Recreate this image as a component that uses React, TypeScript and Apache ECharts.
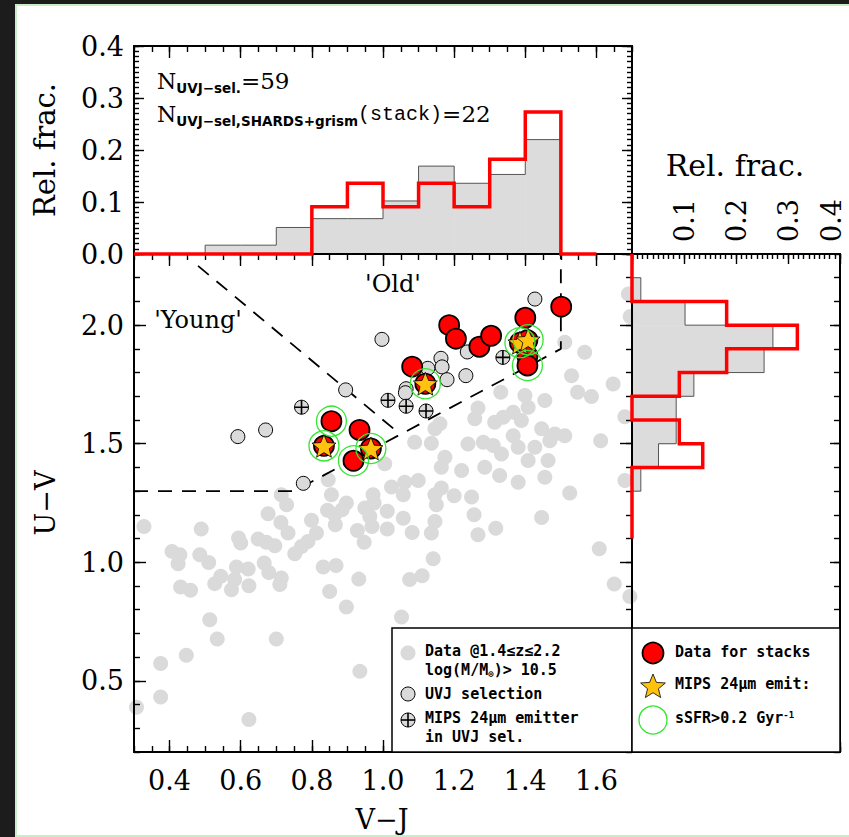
import React, { useEffect, useRef } from "react";
import * as echarts from "echarts";

// ---------------- histogram data (relative fractions) ----------------
const vjBinEdges = [0.3, 0.4, 0.5, 0.6, 0.7, 0.8, 0.9, 1.0, 1.1, 1.2, 1.3, 1.4, 1.5, 1.6];
const vjFracUVJ = [0, 0, 0.017, 0.017, 0.051, 0.068, 0.068, 0.102, 0.169, 0.136, 0.153, 0.22, 0];
const vjFracStack = [0, 0, 0, 0, 0, 0.091, 0.136, 0.091, 0.136, 0.091, 0.182, 0.273, 0];

const uvBinEdges = [2.3, 2.2, 2.1, 2.0, 1.9, 1.8, 1.7, 1.6, 1.5, 1.4, 1.3, 1.2, 1.1];
const uvFracUVJ = [0, 0.017, 0.102, 0.271, 0.254, 0.119, 0.085, 0.085, 0.051, 0.017, 0, 0];
const uvFracStack = [0, 0, 0.182, 0.318, 0.182, 0.091, 0, 0.091, 0.136, 0, 0, 0];

// ---------------- scatter data: [V-J, U-V] ----------------
const allData = [
  [0.328, 1.151], [0.489, 1.14], [0.407, 1.046], [0.429, 1.032], [0.424, 0.994], [0.485, 1.032], [0.51, 0.999],
  [0.594, 1.102], [0.6, 1.081], [0.649, 1.098], [0.672, 1.084], [0.696, 1.07], [0.677, 1.205], [0.713, 1.168],
  [0.733, 1.123], [0.714, 1.285], [0.729, 1.243], [0.799, 1.177], [0.813, 1.123], [0.789, 1.088], [0.771, 1.067],
  [0.752, 1.036], [0.855, 1.285], [0.844, 1.219], [0.864, 1.2], [0.866, 1.158], [0.897, 1.25], [0.885, 1.222],
  [0.846, 1.348], [0.949, 1.229], [0.972, 1.285], [0.975, 1.25], [0.963, 1.193], [0.969, 1.151], [0.928, 1.134],
  [0.947, 1.084], [1.012, 1.14], [0.588, 0.98], [0.621, 0.972], [0.666, 0.997], [0.679, 0.957], [0.544, 0.941],
  [0.527, 0.91], [0.583, 0.927], [0.574, 0.884], [0.623, 0.901], [0.714, 0.934], [0.71, 0.906], [0.431, 0.896],
  [0.459, 0.882], [0.832, 0.98], [0.868, 0.986], [0.85, 0.877], [0.932, 0.929], [0.897, 0.811], [0.513, 0.758],
  [0.534, 0.677], [0.7, 0.677], [0.447, 0.608], [0.375, 0.573], [0.375, 0.432], [0.307, 0.389], [0.623, 0.337],
  [0.935, 0.54], [1.057, 1.285], [1.164, 1.313], [1.15, 1.243], [1.2, 1.281], [1.249, 1.275], [1.146, 1.285],
  [1.525, 1.292], [1.012, 1.215], [1.057, 1.186], [1.082, 1.126], [1.146, 1.172], [1.136, 1.123], [1.256, 1.2],
  [1.267, 1.116], [1.317, 1.144], [1.446, 1.189], [1.141, 1.015], [1.11, 0.943], [1.075, 0.927], [1.052, 0.769],
  [1.608, 1.057], [1.65, 0.908], [1.694, 0.856], [1.511, 1.928], [1.567, 1.886], [1.69, 2.131], [1.695, 2.036],
  [1.53, 1.787], [1.647, 1.752], [1.331, 1.717], [1.399, 1.703], [1.455, 1.682], [1.547, 1.717], [1.586, 1.699],
  [1.267, 1.651], [1.366, 1.633], [1.408, 1.654], [1.389, 1.598], [1.258, 1.605], [1.314, 1.591], [1.338, 1.612],
  [1.446, 1.563], [1.483, 1.541], [1.511, 1.534], [1.612, 1.513], [1.68, 1.614], [1.16, 1.584], [1.146, 1.563],
  [1.089, 1.506], [1.136, 1.502], [1.239, 1.499], [1.282, 1.506], [1.31, 1.492], [1.366, 1.534], [1.38, 1.485],
  [1.427, 1.485], [1.469, 1.513], [1.174, 1.443], [1.221, 1.387], [1.286, 1.401], [1.333, 1.457], [1.408, 1.429],
  [1.464, 1.429], [1.328, 1.366], [1.38, 1.338], [1.455, 1.359], [1.68, 1.345], [1.061, 1.338], [1.024, 1.317],
  [1.099, 1.345], [1.164, 1.401], [1.005, 1.415],
];
const uvjSelection = [
  [0.592, 1.53], [0.67, 1.558], [0.895, 1.727], [0.997, 1.94], [0.776, 1.333], [1.427, 2.11], [1.237, 1.887],
  [1.163, 1.86], [1.166, 1.824], [1.126, 1.818], [1.18, 1.77], [1.233, 1.787], [1.065, 1.732], [1.063, 1.715],
];
const mipsUVJ = [[0.771, 1.654], [1.014, 1.683], [1.065, 1.658], [1.121, 1.638], [1.337, 1.864]];
const stackData = [
  [0.855, 1.595], [0.834, 1.491], [0.934, 1.558], [0.917, 1.428], [0.966, 1.48], [1.082, 1.825], [1.119, 1.753],
  [1.186, 2.0], [1.205, 1.943], [1.271, 1.909], [1.304, 1.955], [1.4, 2.031], [1.385, 1.926], [1.406, 1.937],
  [1.406, 1.87], [1.406, 1.83], [1.501, 2.078],
];
const mipsStack = [[0.834, 1.491], [0.966, 1.48], [1.119, 1.753], [1.385, 1.926], [1.408, 1.938]];
const highSSFR = [[0.855, 1.595], [0.834, 1.491], [0.917, 1.428], [0.966, 1.48], [1.119, 1.753], [1.385, 1.926], [1.408, 1.938], [1.406, 1.83]];

// selection boundaries
const uvjBoxVJ = [0.3, 0.75, 1.5, 1.5];
const uvjBoxUV = [1.3, 1.3, 1.9, 2.3];
const dividerVJ = [0.48, 1.049];
const dividerUV = [2.25, 1.539];

// ticks and tick labels
const vjTicks = [0.4, 0.6, 0.8, 1.0, 1.2, 1.4, 1.6];
const uvTicks = [0.5, 1.0, 1.5, 2.0];
const fracLeftLabels = [0.0, 0.1, 0.2, 0.3, 0.4];
const fracTopLabelPos = [0.1, 0.2, 0.3, 0.383];

const SERIF = "DejaVu Serif";
const MONO = "DejaVu Sans Mono";
const GRAY = "#dadada";
const STAR_PATH =
  "path://M50,0 L62.93,32.2 L97.55,34.55 L70.92,56.8 L79.39,90.45 L50,72 L20.61,90.45 L29.08,56.8 L2.45,34.55 L37.07,32.2 Z";
const PLUS_PATH = "path://M0,10 L20,10 M10,0 L10,20";
const starUnit = [
  [0, -1], [0.2586, -0.356], [0.951, -0.309], [0.4184, 0.136], [0.5878, 0.809],
  [0, 0.44], [-0.5878, 0.809], [-0.4184, 0.136], [-0.951, -0.309], [-0.2586, -0.356],
];

function stepAlongX(edges: number[], vals: number[]) {
  const pts: number[][] = [[edges[0], 0]];
  vals.forEach((v, i) => {
    pts.push([edges[i], v]);
    pts.push([edges[i + 1], v]);
  });
  pts.push([edges[edges.length - 1], 0]);
  return pts;
}
function stepAlongY(edges: number[], vals: number[]) {
  const pts: number[][] = [[0, edges[0]]];
  vals.forEach((v, i) => {
    pts.push([v, edges[i]]);
    pts.push([v, edges[i + 1]]);
  });
  pts.push([0, edges[edges.length - 1]]);
  return pts;
}

function ax(o: any) {
  return {
    type: "value",
    gridIndex: o.grid,
    position: o.pos,
    min: o.min,
    max: o.max,
    interval: o.interval,
    z: 10,
    splitLine: { show: false },
    axisLine: { show: o.line !== false, onZero: false, lineStyle: { color: "#000", width: 2 } },
    axisTick: {
      show: o.tick !== false,
      inside: true,
      length: o.len || 6,
      customValues: o.ticks,
      lineStyle: { color: "#000", width: 1.4 },
    },
    axisLabel: o.labels
      ? {
          show: true,
          customValues: o.labels,
          formatter: (v: number) => (Math.round(Number(v) * 10) / 10).toFixed(1),
          fontFamily: SERIF,
          fontSize: 27,
          color: "#000",
          margin: o.margin,
          rotate: o.rotate || 0,
        }
      : { show: false },
  };
}

function buildOption() {
  const xAxis = [
    ax({ grid: 0, pos: "bottom", min: 0.3, max: 1.7, ticks: vjTicks, len: 12, labels: vjTicks, margin: 15 }),
    ax({ grid: 0, pos: "bottom", min: 0.3, max: 1.7, interval: 0.05, len: 6, line: false }),
    ax({ grid: 0, pos: "top", min: 0.3, max: 1.7, ticks: vjTicks, len: 12 }),
    ax({ grid: 0, pos: "top", min: 0.3, max: 1.7, interval: 0.05, len: 6, line: false }),
    ax({ grid: 1, pos: "top", min: 0.3, max: 1.7, ticks: vjTicks, len: 12 }),
    ax({ grid: 1, pos: "top", min: 0.3, max: 1.7, interval: 0.05, len: 6, line: false }),
    ax({ grid: 2, pos: "top", min: 0, max: 0.4, interval: 0.1, len: 10, labels: fracTopLabelPos, margin: 12, rotate: -90 }),
    ax({ grid: 2, pos: "top", min: 0, max: 0.4, interval: 0.01, len: 5, line: false }),
    ax({ grid: 2, pos: "bottom", min: 0, max: 0.4, interval: 0.1, len: 10 }),
    ax({ grid: 2, pos: "bottom", min: 0, max: 0.4, interval: 0.01, len: 5, line: false }),
  ];
  const yAxis = [
    ax({ grid: 0, pos: "left", min: 0.2, max: 2.3, ticks: uvTicks, len: 12, labels: uvTicks, margin: 10 }),
    ax({ grid: 0, pos: "left", min: 0.2, max: 2.3, interval: 0.1, len: 6, line: false }),
    ax({ grid: 0, pos: "right", min: 0.2, max: 2.3, ticks: uvTicks, len: 12 }),
    ax({ grid: 0, pos: "right", min: 0.2, max: 2.3, interval: 0.1, len: 6, line: false }),
    ax({ grid: 1, pos: "left", min: 0, max: 0.4, interval: 0.1, len: 10, labels: fracLeftLabels, margin: 10 }),
    ax({ grid: 1, pos: "left", min: 0, max: 0.4, interval: 0.01, len: 5, line: false }),
    ax({ grid: 1, pos: "right", min: 0, max: 0.4, interval: 0.1, len: 10 }),
    ax({ grid: 1, pos: "right", min: 0, max: 0.4, interval: 0.01, len: 5, line: false }),
    ax({ grid: 2, pos: "left", min: 0.2, max: 2.3, interval: 0.1, tick: false, line: false }),
    ax({ grid: 2, pos: "right", min: 0.2, max: 2.3, ticks: uvTicks, len: 10 }),
    ax({ grid: 2, pos: "right", min: 0.2, max: 2.3, interval: 0.1, len: 6, line: false }),
  ];

  const topFill = (fracs: number[]) => ({
    type: "custom",
    xAxisIndex: 4,
    yAxisIndex: 4,
    z: 2,
    renderItem: (_p: any, api: any) => {
      const a = api.coord([api.value(0), api.value(2)]);
      const b = api.coord([api.value(1), 0]);
      return { type: "rect", shape: { x: a[0], y: a[1], width: b[0] - a[0] + 0.5, height: b[1] - a[1] }, style: { fill: "#dcdcdc" } };
    },
    data: fracs.map((v, i) => [vjBinEdges[i], vjBinEdges[i + 1], v]),
  });
  const rightFill = (fracs: number[]) => ({
    type: "custom",
    xAxisIndex: 6,
    yAxisIndex: 8,
    z: 2,
    renderItem: (_p: any, api: any) => {
      const a = api.coord([0, api.value(0)]);
      const b = api.coord([api.value(2), api.value(1)]);
      return { type: "rect", shape: { x: a[0], y: a[1], width: b[0] - a[0], height: b[1] - a[1] + 0.5 }, style: { fill: "#dcdcdc" } };
    },
    data: fracs.map((v, i) => [uvBinEdges[i], uvBinEdges[i + 1], v]),
  });
  const stepLine = (data: number[][], xi: number, yi: number, color: string, width: number, z: number) => ({
    type: "line",
    xAxisIndex: xi,
    yAxisIndex: yi,
    data,
    symbol: "none",
    showSymbol: false,
    clip: false,
    z,
    lineStyle: { color, width, join: "miter", cap: "butt" },
  });

  const series: any[] = [
    topFill(vjFracUVJ),
    stepLine(stepAlongX(vjBinEdges, vjFracUVJ), 4, 4, "#555", 1, 3),
    stepLine(stepAlongX(vjBinEdges, vjFracStack), 4, 4, "#ff0000", 3.5, 20),
    rightFill(uvFracUVJ),
    stepLine(stepAlongY(uvBinEdges, uvFracUVJ), 6, 8, "#555", 1, 3),
    stepLine(stepAlongY(uvBinEdges, uvFracStack), 6, 8, "#ff0000", 3.5, 20),
    {
      type: "scatter", xAxisIndex: 0, yAxisIndex: 0, data: allData, symbol: "circle", symbolSize: 15, z: 2,
      itemStyle: { color: GRAY, borderWidth: 0, opacity: 1 },
    },
    {
      type: "line", xAxisIndex: 0, yAxisIndex: 0, data: uvjBoxVJ.map((v, i) => [v, uvjBoxUV[i]]), symbol: "none", z: 3,
      lineStyle: { color: "#000", width: 1.8, type: [14, 10] },
    },
    {
      type: "line", xAxisIndex: 0, yAxisIndex: 0, data: dividerVJ.map((v, i) => [v, dividerUV[i]]), symbol: "none", z: 3,
      lineStyle: { color: "#000", width: 1.8, type: [14, 10] },
    },
    {
      type: "scatter", xAxisIndex: 0, yAxisIndex: 0, data: uvjSelection, symbol: "circle", symbolSize: 14, z: 4,
      itemStyle: { color: GRAY, borderColor: "#000", borderWidth: 1, opacity: 1 },
    },
    {
      type: "scatter", xAxisIndex: 0, yAxisIndex: 0, data: mipsUVJ, symbol: "circle", symbolSize: 14, z: 5,
      itemStyle: { color: GRAY, borderColor: "#000", borderWidth: 1, opacity: 1 },
    },
    {
      type: "scatter", xAxisIndex: 0, yAxisIndex: 0, data: mipsUVJ, symbol: PLUS_PATH, symbolSize: 14, z: 5,
      itemStyle: { color: "none", borderColor: "#000", borderWidth: 1.6, opacity: 1 },
    },
    {
      type: "scatter", xAxisIndex: 0, yAxisIndex: 0, data: stackData, symbol: "circle", symbolSize: 20, z: 6,
      itemStyle: { color: "#ff0000", borderColor: "#000", borderWidth: 1.8, opacity: 1 },
    },
    {
      type: "scatter", xAxisIndex: 0, yAxisIndex: 0, data: mipsStack, symbol: STAR_PATH, symbolKeepAspect: true, symbolSize: 24, z: 7,
      itemStyle: { color: "#ffc20e", borderColor: "#000", borderWidth: 0.8, opacity: 1 },
    },
    {
      type: "scatter", xAxisIndex: 0, yAxisIndex: 0, data: highSSFR, symbol: "circle", symbolSize: 30, z: 8,
      itemStyle: { color: "rgba(0,0,0,0)", borderColor: "#33e633", borderWidth: 1.3, opacity: 1 },
    },
  ];

  const LFS = 15;
  const richBase = { fontFamily: MONO, fontWeight: "bold", fontSize: LFS, lineHeight: 16, fill: "#000" };
  const legendText = (x: number, y: number, text: string, rich?: any) => ({
    type: "text",
    x,
    y,
    z: 30,
    style: {
      text,
      fill: "#000",
      fontFamily: MONO,
      fontWeight: "bold",
      fontSize: LFS,
      align: "left",
      verticalAlign: "middle",
      rich,
    },
  });
  const starPts = (cx: number, cy: number, r: number) => starUnit.map((p) => [cx + p[0] * r, cy + p[1] * r]);

  const annRich = {
    n: { fontFamily: SERIF, fontSize: 22, lineHeight: 28, verticalAlign: "middle", fill: "#000" },
    s: { fontFamily: "DejaVu Sans", fontWeight: "bold", fontSize: 13.5, lineHeight: 13, verticalAlign: "bottom", fill: "#000" },
    t: { fontFamily: SERIF, fontSize: 23, lineHeight: 28, verticalAlign: "middle", fill: "#000" },
    m: { fontFamily: "Liberation Mono", fontSize: 20, lineHeight: 28, verticalAlign: "middle", fill: "#000" },
  };

  const graphic: any[] = [
    { type: "rect", shape: { x: 0, y: 0, width: 15, height: 837 }, style: { fill: "#1c1c1c" }, z: 50 },
    { type: "rect", shape: { x: 0, y: 0, width: 849, height: 4 }, style: { fill: "#1c1c1c" }, z: 50 },
    { type: "rect", shape: { x: 15, y: 4, width: 2, height: 833 }, style: { fill: "#c8eec8" }, z: 50 },
    { type: "rect", shape: { x: 15, y: 4, width: 834, height: 2 }, style: { fill: "#c8eec8" }, z: 50 },
    { type: "rect", shape: { x: 15, y: 835, width: 834, height: 2 }, style: { fill: "#c8eec8" }, z: 50 },
    // axis titles
    { type: "text", x: 45, y: 150, rotation: Math.PI / 2, style: { text: "Rel. frac.", fontFamily: SERIF, fontSize: 29, fill: "#000", align: "center", verticalAlign: "middle" } },
    { type: "text", x: 735, y: 165, style: { text: "Rel. frac.", fontFamily: SERIF, fontSize: 30, fill: "#000", align: "center", verticalAlign: "middle" } },
    { type: "text", x: 45, y: 503, rotation: Math.PI / 2, style: { text: "U−V", fontFamily: SERIF, fontSize: 27, fill: "#000", align: "center", verticalAlign: "middle" } },
    { type: "text", x: 382, y: 819, style: { text: "V−J", fontFamily: SERIF, fontSize: 27, fill: "#000", align: "center", verticalAlign: "middle" } },
    { type: "text", x: 198, y: 320, z: 30, style: { text: "'Young'", fontFamily: SERIF, fontSize: 24, fill: "#000", align: "center", verticalAlign: "middle" } },
    { type: "text", x: 393, y: 284, z: 30, style: { text: "'Old'", fontFamily: SERIF, fontSize: 24, fill: "#000", align: "center", verticalAlign: "middle" } },
    // annotations in top histogram
    { type: "text", x: 157, y: 81, z: 30, style: { text: "{n|N}{s|UVJ−sel.}{t|=59}", rich: annRich, align: "left", verticalAlign: "middle" } },
    { type: "text", x: 157, y: 114, z: 30, style: { text: "{n|N}{s|UVJ−sel,SHARDS+grism}{m|(stack)}{t|=22}", rich: annRich, align: "left", verticalAlign: "middle" } },
    // legend boxes
    { type: "rect", z: 25, shape: { x: 392, y: 628, width: 240, height: 124 }, style: { fill: "#fff", stroke: "#000", lineWidth: 1.5 } },
    { type: "rect", z: 25, shape: { x: 632, y: 628, width: 208, height: 124 }, style: { fill: "#fff", stroke: "#000", lineWidth: 1.5 } },
    { type: "circle", z: 30, shape: { cx: 408, cy: 653, r: 7.5 }, style: { fill: GRAY } },
    { type: "circle", z: 30, shape: { cx: 408, cy: 694, r: 7 }, style: { fill: GRAY, stroke: "#000", lineWidth: 1 } },
    { type: "circle", z: 30, shape: { cx: 408, cy: 720, r: 7 }, style: { fill: GRAY, stroke: "#000", lineWidth: 1 } },
    { type: "line", z: 31, shape: { x1: 401, y1: 720, x2: 415, y2: 720 }, style: { stroke: "#000", lineWidth: 1.6 } },
    { type: "line", z: 31, shape: { x1: 408, y1: 713, x2: 408, y2: 727 }, style: { stroke: "#000", lineWidth: 1.6 } },
    legendText(425, 651, "Data @1.4≤z≤2.2"),
    legendText(425, 670, "{a|log(M/M}{b|⊙}{a|)> 10.5}", {
      a: { ...richBase, verticalAlign: "middle" },
      b: { ...richBase, fontSize: 9, lineHeight: 10, verticalAlign: "bottom" },
    }),
    legendText(425, 694, "UVJ selection"),
    legendText(425, 718, "MIPS 24μm emitter"),
    legendText(425, 737, "in UVJ sel."),
    { type: "circle", z: 30, shape: { cx: 653, cy: 653, r: 10.5 }, style: { fill: "#ff0000", stroke: "#000", lineWidth: 1.8 } },
    { type: "polygon", z: 30, shape: { points: starPts(653, 687, 13) }, style: { fill: "#ffc20e", stroke: "#000", lineWidth: 0.8 } },
    { type: "circle", z: 30, shape: { cx: 653, cy: 720, r: 14 }, style: { fill: "none", stroke: "#33e633", lineWidth: 1.3 } },
    legendText(675, 652, "Data for stacks"),
    legendText(675, 684, "MIPS 24μm emit:"),
    legendText(675, 718, "{a|sSFR>0.2 Gyr}{b|-1}", {
      a: { ...richBase, verticalAlign: "middle" },
      b: { ...richBase, fontSize: 9, lineHeight: 10, verticalAlign: "top" },
    }),
  ];

  return {
    animation: false,
    backgroundColor: "#fff",
    grid: [
      { left: 134, top: 254, width: 498, height: 498, containLabel: false },
      { left: 134, top: 46, width: 498, height: 208, containLabel: false },
      { left: 632, top: 254, width: 208, height: 498, containLabel: false },
    ],
    xAxis,
    yAxis,
    series,
    graphic,
  };
}

export default function App() {
  const ref = useRef<HTMLDivElement>(null);
  useEffect(() => {
    if (!ref.current) return;
    const chart = echarts.init(ref.current, null, { renderer: "svg" });
    chart.setOption(buildOption() as any);
    return () => chart.dispose();
  }, []);
  return (
    <div
      ref={ref}
      style={{ position: "absolute", left: 0, top: 0, width: 849, height: 837, background: "#fff" }}
    />
  );
}
